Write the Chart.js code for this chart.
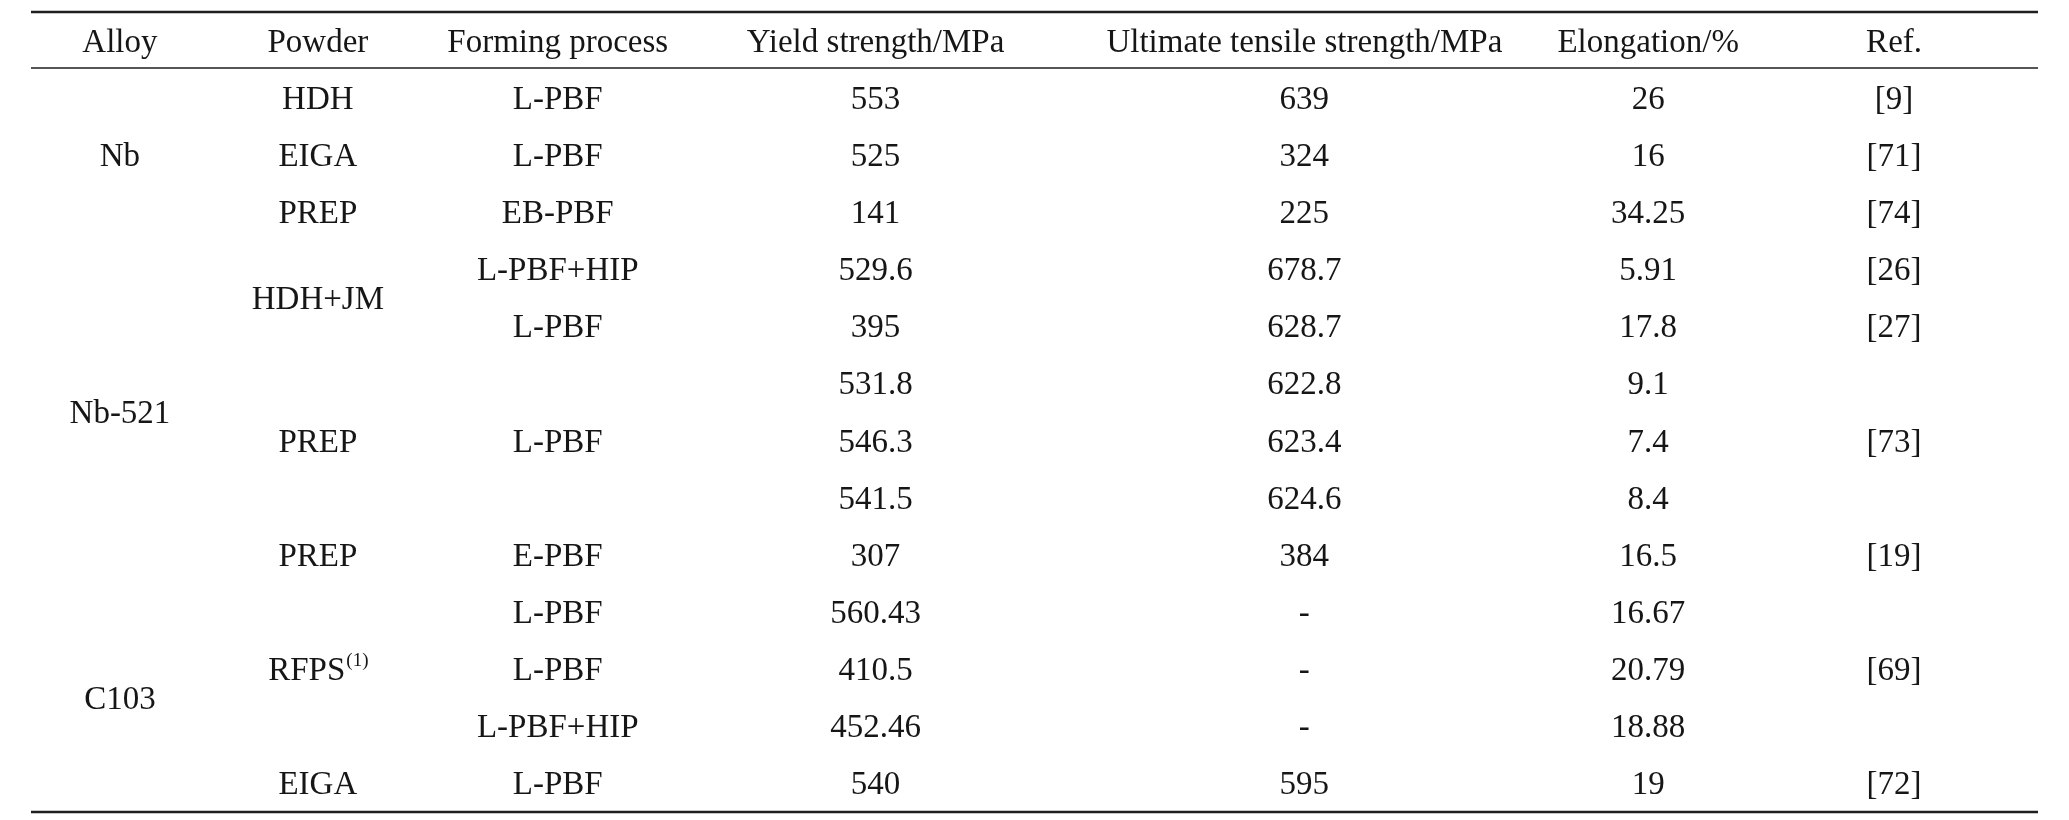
<!DOCTYPE html>
<html>
<head>
<meta charset="utf-8">
<title>Mechanical properties table</title>
<script src="https://cdn.jsdelivr.net/npm/chart.js@4.4.0/dist/chart.umd.min.js"></script>
<style>
  html, body { margin: 0; padding: 0; background: #ffffff; }
  #wrap { width: 2069px; height: 820px; position: relative; }
</style>
</head>
<body>
<div id="wrap"><canvas id="tableChart"></canvas></div>
<script>
// table headers
var headers = ["Alloy", "Powder", "Forming process", "Yield strength/MPa",
               "Ultimate tensile strength/MPa", "Elongation/%", "Ref."];

// merged cells: label + how many rows it covers
var alloys = ["Nb", "Nb-521", "C103"];
var alloySpans = [3, 6, 4];

var powders = ["HDH", "EIGA", "PREP", "HDH+JM", "PREP", "PREP", "RFPS", "EIGA"];
var powderSpans = [1, 1, 1, 2, 3, 1, 3, 1];
var powderNotes = ["", "", "", "", "", "", "(1)", ""];

var processes = ["L-PBF", "L-PBF", "EB-PBF", "L-PBF+HIP", "L-PBF", "L-PBF",
                 "E-PBF", "L-PBF", "L-PBF", "L-PBF+HIP", "L-PBF"];
var processSpans = [1, 1, 1, 1, 1, 3, 1, 1, 1, 1, 1];

// one value per row
var yieldStrength = [553, 525, 141, 529.6, 395, 531.8, 546.3, 541.5, 307, 560.43, 410.5, 452.46, 540];
var tensileStrength = [639, 324, 225, 678.7, 628.7, 622.8, 623.4, 624.6, 384, null, null, null, 595];
var elongation = [26, 16, 34.25, 5.91, 17.8, 9.1, 7.4, 8.4, 16.5, 16.67, 20.79, 18.88, 19];

var refs = ["[9]", "[71]", "[74]", "[26]", "[27]", "[73]", "[19]", "[69]", "[72]"];
var refSpans = [1, 1, 1, 1, 1, 3, 1, 3, 1];

// layout: column widths in table units
var colWidths = [178, 218, 262, 374, 484, 204, 288];
var FONT = '33px "Liberation Serif", "Times New Roman", serif';
var INK = '#161616';

var nRows = yieldStrength.length;

function colCenter(c) {
  var x = 0;
  for (var i = 0; i < c; i++) x += colWidths[i];
  return x + colWidths[c] / 2;
}

// turn a spanned column into points sitting in the middle of their span
function spanned(col, labels, spans, notes) {
  var pts = [], row = 0;
  labels.forEach(function(lab, i) {
    pts.push({ x: colCenter(col), y: row + (spans[i] - 1) / 2, label: lab, note: notes ? notes[i] : "" });
    row += spans[i];
  });
  return pts;
}

function perRow(col, values) {
  return values.map(function(v, i) {
    return { x: colCenter(col), y: i, label: v === null ? "-" : String(v), note: "" };
  });
}

var columns = [
  spanned(0, alloys, alloySpans),
  spanned(1, powders, powderSpans, powderNotes),
  spanned(2, processes, processSpans),
  perRow(3, yieldStrength),
  perRow(4, tensileStrength),
  perRow(5, elongation),
  spanned(6, refs, refSpans)
];

// draws rules, header and cell text using the chart scales
var tablePlugin = {
  id: 'tableText',
  afterDatasetsDraw: function(chart) {
    var ctx = chart.ctx;
    var xs = chart.scales.x, ys = chart.scales.y;
    var left = chart.chartArea.left, right = chart.chartArea.right;

    ctx.save();
    ctx.strokeStyle = '#1e1e1e';
    function rule(v, w) {
      var y = ys.getPixelForValue(v);
      ctx.lineWidth = w;
      ctx.beginPath();
      ctx.moveTo(left, y);
      ctx.lineTo(right, y);
      ctx.stroke();
    }
    rule(-1.5, 2.6);
    rule(-0.52, 1.3);
    rule(nRows - 0.5, 2.6);

    ctx.fillStyle = INK;
    ctx.font = FONT;
    ctx.textAlign = 'center';
    ctx.textBaseline = 'alphabetic';

    headers.forEach(function(h, c) {
      ctx.fillText(h, xs.getPixelForValue(colCenter(c)), ys.getPixelForValue(-1) + 11);
    });

    chart.data.datasets.forEach(function(ds, di) {
      var meta = chart.getDatasetMeta(di);
      meta.data.forEach(function(el, i) {
        var p = ds.data[i];
        var base = el.y + 11;
        if (p.note) {
          ctx.font = FONT;
          var w1 = ctx.measureText(p.label).width;
          ctx.font = '19px "Liberation Serif", serif';
          var w2 = ctx.measureText(p.note).width;
          var x0 = el.x - (w1 + w2) / 2;
          ctx.textAlign = 'left';
          ctx.font = FONT;
          ctx.fillText(p.label, x0, base);
          ctx.font = '19px "Liberation Serif", serif';
          ctx.fillText(p.note, x0 + w1 + 1, base - 14);
          ctx.textAlign = 'center';
          ctx.font = FONT;
        } else {
          ctx.fillText(p.label, el.x, base);
        }
      });
    });
    ctx.restore();
  }
};

new Chart(document.getElementById('tableChart'), {
  type: 'scatter',
  data: {
    datasets: columns.map(function(pts, c) {
      return { label: headers[c], data: pts, pointRadius: 0, pointHoverRadius: 0 };
    })
  },
  options: {
    responsive: true,
    maintainAspectRatio: false,
    animation: false,
    events: [],
    layout: { padding: { left: 31, right: 31, top: 12, bottom: 8 } },
    scales: {
      x: { type: 'linear', min: 0, max: 2008, display: false },
      y: { type: 'linear', min: -1.5, max: nRows - 0.5, reverse: true, display: false }
    },
    plugins: {
      legend: { display: false },
      tooltip: { enabled: false }
    }
  },
  plugins: [tablePlugin]
});
</script>
</body>
</html>
